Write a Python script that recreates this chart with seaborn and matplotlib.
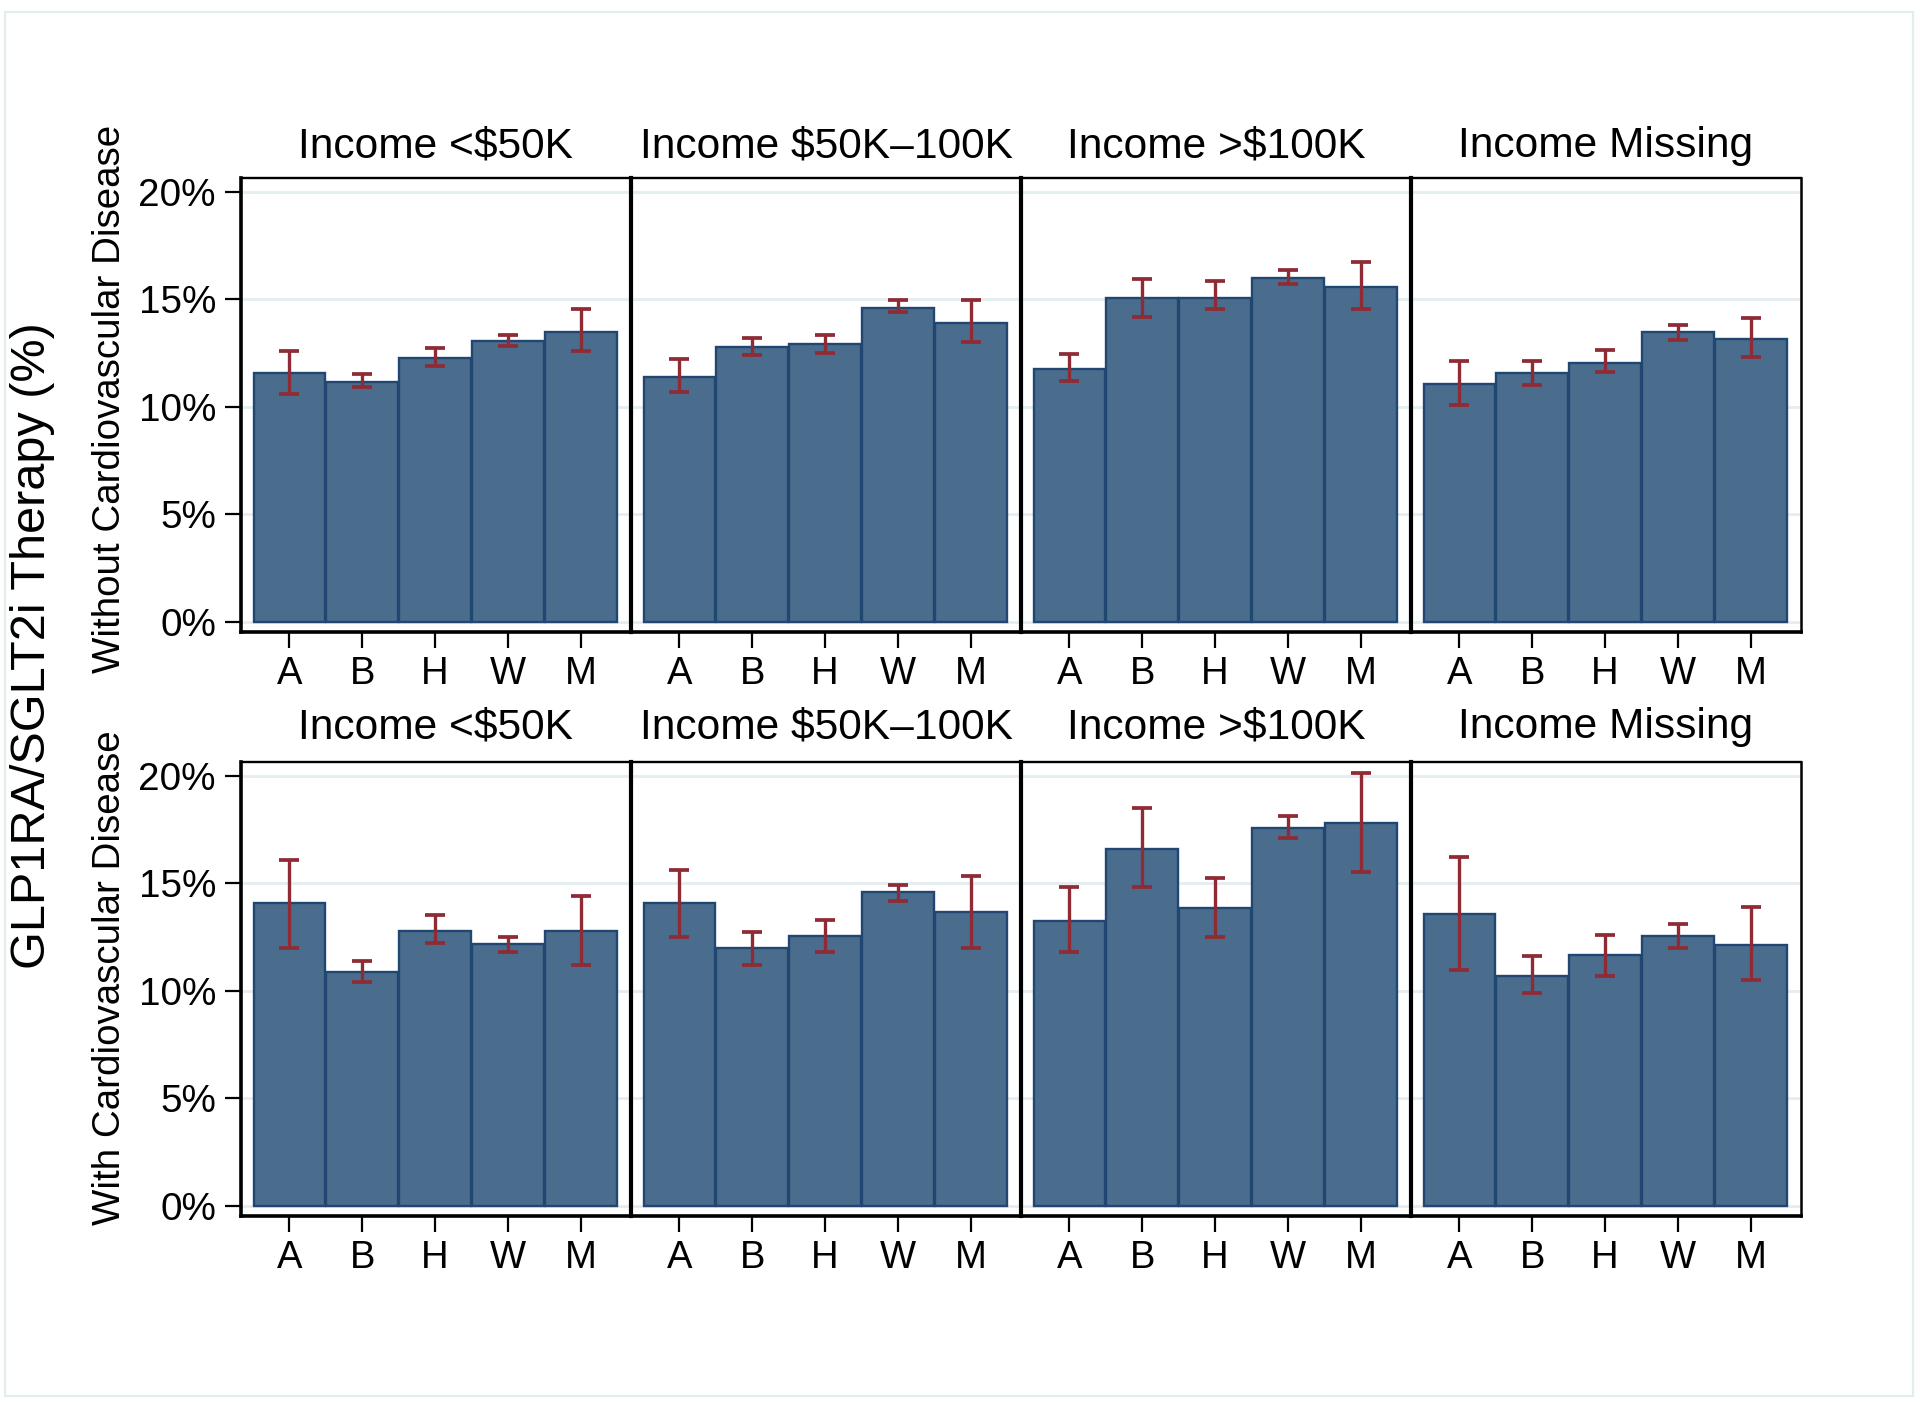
import numpy as np
import pandas as pd
import matplotlib
matplotlib.use("Agg")
import matplotlib.pyplot as plt
import seaborn as sns
from matplotlib.patches import Rectangle

# ---------------- data ----------------
races = ["A", "B", "H", "W", "M"]
income_groups = ["Income <$50K", "Income $50K\u2013100K", "Income >$100K", "Income Missing"]
row_labels = ["Without Cardiovascular Disease", "With Cardiovascular Disease"]

# Without CVD: estimate, lower CI, upper CI (per income group, per race)
no_cvd_pct = [
    [11.57, 11.16, 12.27, 13.07, 13.48],
    [11.39, 12.77, 12.89, 14.59, 13.88],
    [11.77, 15.05, 15.05, 15.98, 15.57],
    [11.07, 11.57, 12.05, 13.46, 13.16],
]
no_cvd_lo = [
    [10.58, 10.89, 11.90, 12.80, 12.59],
    [10.68, 12.39, 12.50, 14.38, 13.00],
    [11.18, 14.18, 14.52, 15.70, 14.52],
    [10.09, 11.00, 11.61, 13.11, 12.30],
]
no_cvd_hi = [
    [12.60, 11.50, 12.71, 13.34, 14.52],
    [12.21, 13.21, 13.34, 14.95, 14.95],
    [12.43, 15.95, 15.82, 16.34, 16.71],
    [12.11, 12.11, 12.61, 13.80, 14.13],
]

# With CVD
cvd_pct = [
    [14.06, 10.85, 12.75, 12.16, 12.75],
    [14.06, 11.97, 12.54, 14.57, 13.66],
    [13.26, 16.58, 13.85, 17.57, 17.78],
    [13.57, 10.66, 11.65, 12.54, 12.14],
]
cvd_lo = [
    [11.99, 10.40, 12.20, 11.80, 11.18],
    [12.49, 11.18, 11.78, 14.19, 11.99],
    [11.78, 14.80, 12.47, 17.10, 15.50],
    [10.97, 9.89, 10.68, 11.99, 10.49],
]
cvd_hi = [
    [16.09, 11.40, 13.53, 12.49, 14.40],
    [15.60, 12.71, 13.30, 14.90, 15.33],
    [14.82, 18.50, 15.22, 18.12, 20.10],
    [16.22, 11.61, 12.60, 13.09, 13.89],
]

y_ticks = [0, 5, 10, 15, 20]
y_tick_labels = ["0%", "5%", "10%", "15%", "20%"]

# ---------------- build long table ----------------
records = []
for r, (p, lo, hi) in enumerate([(no_cvd_pct, no_cvd_lo, no_cvd_hi),
                                  (cvd_pct, cvd_lo, cvd_hi)]):
    for g, inc in enumerate(income_groups):
        for k, race in enumerate(races):
            records.append(dict(row=r, income=inc, race=race,
                                pct=p[g][k], lo=lo[g][k], hi=hi[g][k]))
df = pd.DataFrame(records)

# ---------------- style ----------------
sns.set_theme(style="white")
plt.rcParams["font.family"] = ["Liberation Sans", "DejaVu Sans"]

FILL = "#4a6c8d"
EDGE = "#1f4772"
ERR = "#8e2b35"
GRID = "#e4edf0"

W, H = 1920, 1410
fig = plt.figure(figsize=(19.2, 14.1), dpi=100)
fig.patch.set_facecolor("white")

# light outer frame
fig.patches.append(Rectangle((5 / W, 1 - 1396 / H), (1913 - 5) / W, (1396 - 12) / H,
                             transform=fig.transFigure, fill=False,
                             edgecolor="#e3ecee", linewidth=1.6))

col_left = [241, 631, 1021, 1411]
col_w = 390
row_top = [178, 762]
row_h = 454
title_baseline = [157.5, 738.5]

for r in range(2):
    for g, inc in enumerate(income_groups):
        ax = fig.add_axes([col_left[g] / W, 1 - (row_top[r] + row_h) / H, col_w / W, row_h / H])
        sub = df[(df.row == r) & (df.income == inc)]
        ax.set_axisbelow(True)
        ax.yaxis.grid(True, color=GRID, linewidth=2.0)
        sns.barplot(data=sub, x="race", y="pct", order=races, width=0.985,
                    color=FILL, saturation=1, edgecolor=EDGE, linewidth=1.7,
                    errorbar=None, ax=ax, zorder=2)
        xs = np.arange(len(races))
        yv = sub.set_index("race").loc[races]
        ax.errorbar(xs, yv["pct"].values,
                    yerr=[yv["pct"].values - yv["lo"].values, yv["hi"].values - yv["pct"].values],
                    fmt="none", ecolor=ERR, elinewidth=2.4, capsize=7.0, capthick=2.7, zorder=3)
        ax.set_xlim(-0.665, 4.69)
        ax.set_ylim(-0.48, 20.63)
        ax.set_xlabel("")
        ax.set_ylabel("")
        ax.set_yticks(y_ticks)
        for side in ["left", "right", "top", "bottom"]:
            ax.spines[side].set_color("black")
        ax.spines["left"].set_linewidth(2.6 if g == 0 else 3.0)
        ax.spines["bottom"].set_linewidth(2.6)
        ax.spines["top"].set_linewidth(1.7)
        ax.spines["right"].set_linewidth(1.8)
        if g < 3:
            ax.spines["right"].set_visible(False)
        ax.tick_params(axis="x", bottom=True, length=11.5, width=1.6, pad=6,
                       labelsize=27.5, color="black", labelcolor="black")
        if g == 0:
            ax.set_yticklabels(y_tick_labels)
            ax.tick_params(axis="y", left=True, length=11.5, width=1.6, pad=6.5,
                           labelsize=27.8, color="black", labelcolor="black")
        else:
            ax.tick_params(axis="y", left=False, labelleft=False)
        cx = (col_left[g] + col_w / 2) / W
        fig.text(cx, 1 - title_baseline[r] / H, inc, ha="center", va="baseline",
                 fontsize=30.6, color="black")

fig.text(110 / W, 1 - 399 / H, row_labels[0], rotation=90, ha="center", va="center",
         fontsize=27.7, color="black")
fig.text(110 / W, 1 - 978 / H, row_labels[1], rotation=90, ha="center", va="center",
         fontsize=27.7, color="black")
fig.text(33 / W, 1 - 646 / H, "GLP1RA/SGLT2i Therapy (%)", rotation=90, ha="center",
         va="center", fontsize=35.0, color="black")

fig.savefig("out.png", dpi=100, facecolor="white")
